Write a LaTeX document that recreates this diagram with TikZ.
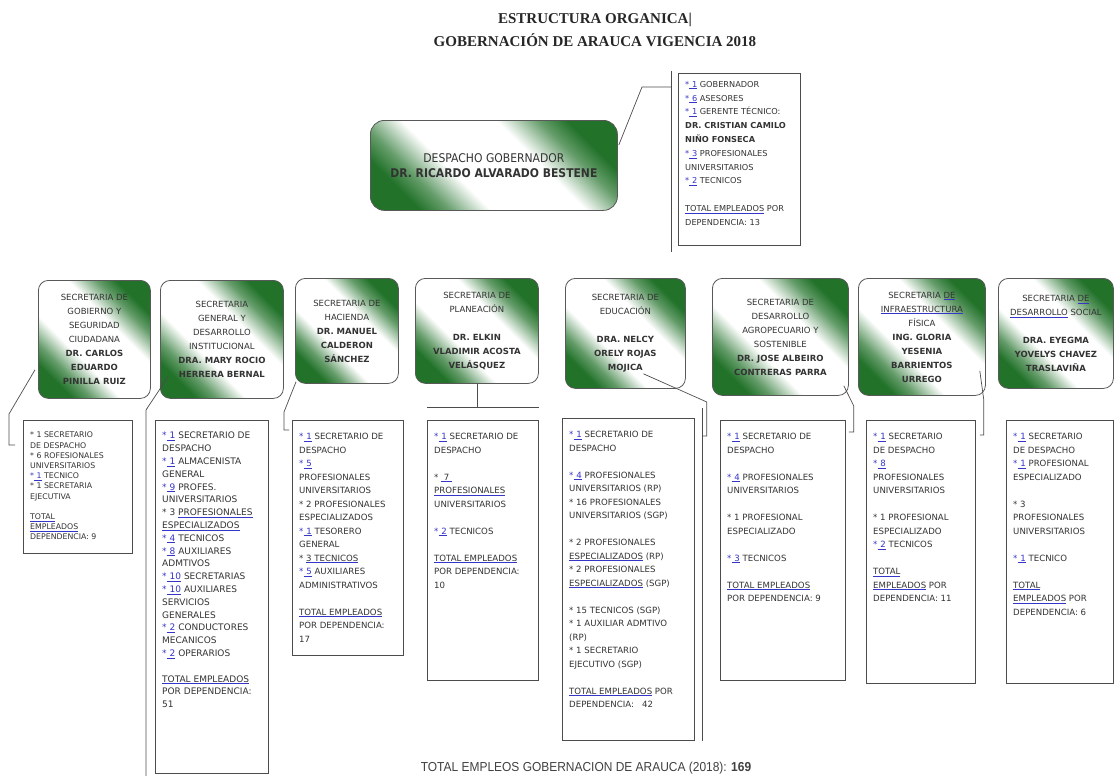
\documentclass[tikz,border=0pt]{standalone}
\usepackage{fontspec}
\usepackage{xcolor}
\usetikzlibrary{calc,positioning}
\setmainfont{DejaVu Sans}
\newfontfamily\despfam[FakeStretch=0.9]{DejaVu Sans}
\newfontfamily\titlefam{Liberation Serif}
\newfontfamily\botfam[FakeStretch=0.92]{Liberation Sans}
\definecolor{secgreen}{HTML}{22722A}
\definecolor{txtgray}{HTML}{333333}
\definecolor{lnkblue}{HTML}{3535C8}
\pgfdeclareverticalshading{secshade}{100bp}{color(0bp)=(secgreen); color(25bp)=(secgreen);
  color(31bp)=(secgreen!70!white); color(40bp)=(white); color(60bp)=(white);
  color(69bp)=(secgreen!70!white); color(75bp)=(secgreen); color(100bp)=(secgreen)}
\newcommand{\secfont}{\fontsize{8.5}{14}\selectfont}
\newcommand{\detfont}{\fontsize{8.6}{13.5}\selectfont}
\newcommand{\lk}[1]{\textcolor{lnkblue}{*\underline{\,\,#1}}}
\newcommand{\ul}[1]{\textcolor{lnkblue}{\underline{\textcolor{txtgray}{#1}}}}
\newcommand{\gap}{\\[\baselineskip]}

\begin{document}
\begin{tikzpicture}[
    x=1pt, y=-1pt,
    every node/.style={text=txtgray},
    secbox/.style={draw=black!65, line width=0.8pt, rounded corners=10pt, anchor=north west,
      shading=secshade, shading angle=-45, align=center, font=\secfont, inner sep=2pt},
    detbox/.style={draw=black!70, line width=0.8pt, fill=white, anchor=north west, inner sep=0pt},
    dettext/.style={anchor=north west, align=left, font=\detfont, inner sep=0pt},
    callout/.style={draw=black!70, line width=0.7pt}
]
\useasboundingbox (0,0) rectangle (1116,782);

% Title
\node[font=\titlefam\bfseries\fontsize{15}{23}\selectfont, align=center, text=black!85] (title) at (595,30)
  {ESTRUCTURA ORGANICA|\\GOBERNACIÓN DE ARAUCA VIGENCIA 2018};

% Despacho
\node[secbox, rounded corners=14pt, font=\despfam\fontsize{12}{15}\selectfont, minimum width=247, minimum height=90] (desp) at (370,120)
  {DESPACHO GOBERNADOR\\\textbf{DR. RICARDO ALVARADO BESTENE}};
\node[detbox, minimum width=122, minimum height=172] (dd) at (678,73) {};
\node[dettext, font=\fontsize{8.2}{13.8}\selectfont] (tdd) at ($(dd.north west)+(7,8)$)
  {\lk{1} GOBERNADOR\\ \lk{6} ASESORES\\ \lk{1} GERENTE TÉCNICO:\\ \textbf{DR. CRISTIAN CAMILO}\\ \textbf{NIÑO FONSECA}\\
   \lk{3} PROFESIONALES\\ UNIVERSITARIOS\\ \lk{2} TECNICOS\gap \ul{TOTAL EMPLEADOS} POR\\ DEPENDENCIA: 13};
\draw[callout] ($(desp.north east)+(1,25)$) -- ($(dd.north west)+(-36,14)$) -- ($(dd.north west)+(-7,14)$);
\draw[callout] ($(dd.north west)+(-7,-2)$) -- ($(dd.south west)+(-7,6)$);

% Secretarias
\node[secbox, minimum width=112, minimum height=118] (s1) at (38,280)
  {SECRETARIA DE\\GOBIERNO Y\\SEGURIDAD\\CIUDADANA\\\textbf{DR. CARLOS}\\\textbf{EDUARDO}\\\textbf{PINILLA RUIZ}};
\node[secbox, minimum width=123, minimum height=118] (s2) at (160,280)
  {SECRETARIA\\GENERAL Y\\DESARROLLO\\INSTITUCIONAL\\\textbf{DRA. MARY ROCIO}\\\textbf{HERRERA BERNAL}};
\node[secbox, minimum width=103, minimum height=105] (s3) at (295,278)
  {SECRETARIA DE\\HACIENDA\\\textbf{DR. MANUEL}\\\textbf{CALDERON}\\\textbf{SÁNCHEZ}};
\node[secbox, minimum width=123, minimum height=105] (s4) at (415,278)
  {SECRETARIA DE\\PLANEACIÓN\gap\textbf{DR. ELKIN}\\\textbf{VLADIMIR ACOSTA}\\\textbf{VELÁSQUEZ}};
\node[secbox, minimum width=120, minimum height=110] (s5) at (565,278)
  {SECRETARIA DE\\EDUCACIÓN\gap\textbf{DRA. NELCY}\\\textbf{ORELY ROJAS}\\\textbf{MOJICA}};
\node[secbox, minimum width=136, minimum height=117] (s6) at (712,278)
  {SECRETARIA DE\\DESARROLLO\\AGROPECUARIO Y\\SOSTENIBLE\\\textbf{DR. JOSE ALBEIRO}\\\textbf{CONTRERAS PARRA}};
\node[secbox, minimum width=127, minimum height=117] (s7) at (858,278)
  {SECRETARIA \ul{DE}\\\ul{INFRAESTRUCTURA}\\FÍSICA\\\textbf{ING. GLORIA}\\\textbf{YESENIA}\\\textbf{BARRIENTOS}\\\textbf{URREGO}};
\node[secbox, minimum width=115, minimum height=110] (s8) at (998,278)
  {SECRETARIA \ul{DE}\\\ul{DESARROLLO} SOCIAL\gap\textbf{DRA. EYEGMA}\\\textbf{YOVELYS CHAVEZ}\\\textbf{TRASLAVIÑA}};

% Detalle por dependencia
\node[detbox, minimum width=109, minimum height=133] (d1) at (23,420) {};
\node[detbox, minimum width=113, minimum height=353] (d2) at (155,420) {};
\node[detbox, minimum width=111, minimum height=235] (d3) at (292,420) {};
\node[detbox, minimum width=111, minimum height=260] (d4) at (427,420) {};
\node[detbox, minimum width=132, minimum height=322] (d5) at (562,418) {};
\node[detbox, minimum width=125, minimum height=260] (d6) at (720,420) {};
\node[detbox, minimum width=109, minimum height=263] (d7) at (866,420) {};
\node[detbox, minimum width=107, minimum height=263] (d8) at (1006,420) {};

\node[dettext, font=\fontsize{7.8}{10.2}\selectfont] (t1) at ($(d1.north west)+(7,12)$)
  {* 1 SECRETARIO\\ DE DESPACHO\\ * 6 ROFESIONALES\\ UNIVERSITARIOS\\ \lk{1} TECNICO\\ * 1 SECRETARIA\\ EJECUTIVA\gap
   \ul{TOTAL}\\ \ul{EMPLEADOS}\\ DEPENDENCIA: 9};
\node[dettext, font=\fontsize{9}{12.8}\selectfont] (t2) at ($(d2.north west)+(7,12)$)
  {\lk{1} SECRETARIO DE\\ DESPACHO\\ \lk{1}\ ALMACENISTA\\ GENERAL\\ \lk{9} PROFES.\\ UNIVERSITARIOS\\
   * 3 \ul{PROFESIONALES}\\ \ul{ESPECIALIZADOS}\\ \lk{4} TECNICOS\\ \lk{8} AUXILIARES\\ ADMTIVOS\\
   \lk{10} SECRETARIAS\\ \lk{10} AUXILIARES\\ SERVICIOS\\ GENERALES\\ \lk{2} CONDUCTORES\\ MECANICOS\\
   \lk{2} OPERARIOS\gap \ul{TOTAL EMPLEADOS}\\ POR DEPENDENCIA:\\ 51};
\node[dettext] (t3) at ($(d3.north west)+(7,13)$)
  {\lk{1} SECRETARIO DE\\ DESPACHO\\ \lk{5}\\ PROFESIONALES\\ UNIVERSITARIOS\\ * 2 PROFESIONALES\\ ESPECIALIZADOS\\
   \lk{1} TESORERO\\ GENERAL\\ * \ul{3 TECNICOS}\\ \lk{5} AUXILIARES\\ ADMINISTRATIVOS\gap
   \ul{TOTAL EMPLEADOS}\\ POR DEPENDENCIA:\\ 17};
\node[dettext] (t4) at ($(d4.north west)+(7,13)$)
  {\lk{1} SECRETARIO DE\\ DESPACHO\gap * \ul{\ 7\ }\\ \ul{PROFESIONALES}\\ UNIVERSITARIOS\gap \lk{2} TECNICOS\gap
   \ul{TOTAL EMPLEADOS}\\ POR DEPENDENCIA:\\ 10};
\node[dettext] (t5) at ($(d5.north west)+(7,13)$)
  {\lk{1} SECRETARIO DE\\ DESPACHO\gap \lk{4} PROFESIONALES\\ UNIVERSITARIOS (RP)\\ * 16 PROFESIONALES\\
   UNIVERSITARIOS (SGP)\gap * 2 PROFESIONALES\\ \ul{ESPECIALIZADOS} (RP)\\ * 2 PROFESIONALES\\
   \ul{ESPECIALIZADOS} (SGP)\gap * 15 TECNICOS (SGP)\\ * 1 AUXILIAR ADMTIVO\\ (RP)\\ * 1 SECRETARIO\\
   EJECUTIVO (SGP)\gap \ul{TOTAL EMPLEADOS} POR\\ DEPENDENCIA:\ \ \ 42};
\node[dettext] (t6) at ($(d6.north west)+(7,13)$)
  {\lk{1} SECRETARIO DE\\ DESPACHO\gap \lk{4} PROFESIONALES\\ UNIVERSITARIOS\gap * 1 PROFESIONAL\\ ESPECIALIZADO\gap
   \lk{3} TECNICOS\gap \ul{TOTAL EMPLEADOS}\\ POR DEPENDENCIA: 9};
\node[dettext] (t7) at ($(d7.north west)+(7,13)$)
  {\lk{1} SECRETARIO\\ DE DESPACHO\\ \lk{8}\\ PROFESIONALES\\ UNIVERSITARIOS\gap * 1 PROFESIONAL\\ ESPECIALIZADO\\
   \lk{2} TECNICOS\gap \ul{TOTAL}\\ \ul{EMPLEADOS} POR\\ DEPENDENCIA: 11};
\node[dettext] (t8) at ($(d8.north west)+(7,13)$)
  {\lk{1} SECRETARIO\\ DE DESPACHO\\ \lk{1} PROFESIONAL\\ ESPECIALIZADO\gap * 3\\ PROFESIONALES\\ UNIVERSITARIOS\gap
   \lk{1} TECNICO\gap \ul{TOTAL}\\ \ul{EMPLEADOS} POR\\ DEPENDENCIA: 6};

% Llamadas
\draw[callout] ($(s1.south west)+(-3,-29)$) -- ($(d1.north west)+(-14,-6)$) -- ($(d1.north west)+(-14,25)$) -- ++(6,0);
\draw[callout] ($(s2.south west)+(8,-22)$) -- ($(d2.north west)+(-9,-10)$) -- ($(d2.south west)+(-9,2)$);
\draw[callout] ($(s3.south west)+(1,-2)$) -- ($(d3.north west)+(-8,-8)$) -- ($(d3.north west)+(-8,10)$) -- ++(5,0);
\draw[callout] (s4.south) -- (s4.south |- {(0,407)});
\draw[callout] ($(d4.north west)+(0,-13)$) -- ($(d4.north east)+(0,-13)$);
\draw[callout] ($(s5.south)+(18,-15)$) -- ($(d5.north east)+(12,-16)$) -- ($(d5.north east)+(12,18)$) -- ++(-4,0);
\draw[callout] ($(d5.north east)+(8,-10)$) -- ($(d5.south east)+(8,0)$);
\draw[callout] ($(s6.south east)+(-5,-10)$) -- ($(d6.north east)+(8,-14)$) -- ($(d6.north east)+(8,12)$) -- ++(-5,0);
\draw[callout] ($(s7.south east)+(-6,-25)$) -- ($(d7.north east)+(8,-20)$) -- ($(d7.north east)+(8,15)$) -- ++(-4,0);

% Total
\node[font=\botfam\fontsize{13}{15}\selectfont, text=black!75] (total) at (586,768)
  {TOTAL EMPLEOS GOBERNACION DE ARAUCA (2018): \textbf{169}};
\end{tikzpicture}
\end{document}
